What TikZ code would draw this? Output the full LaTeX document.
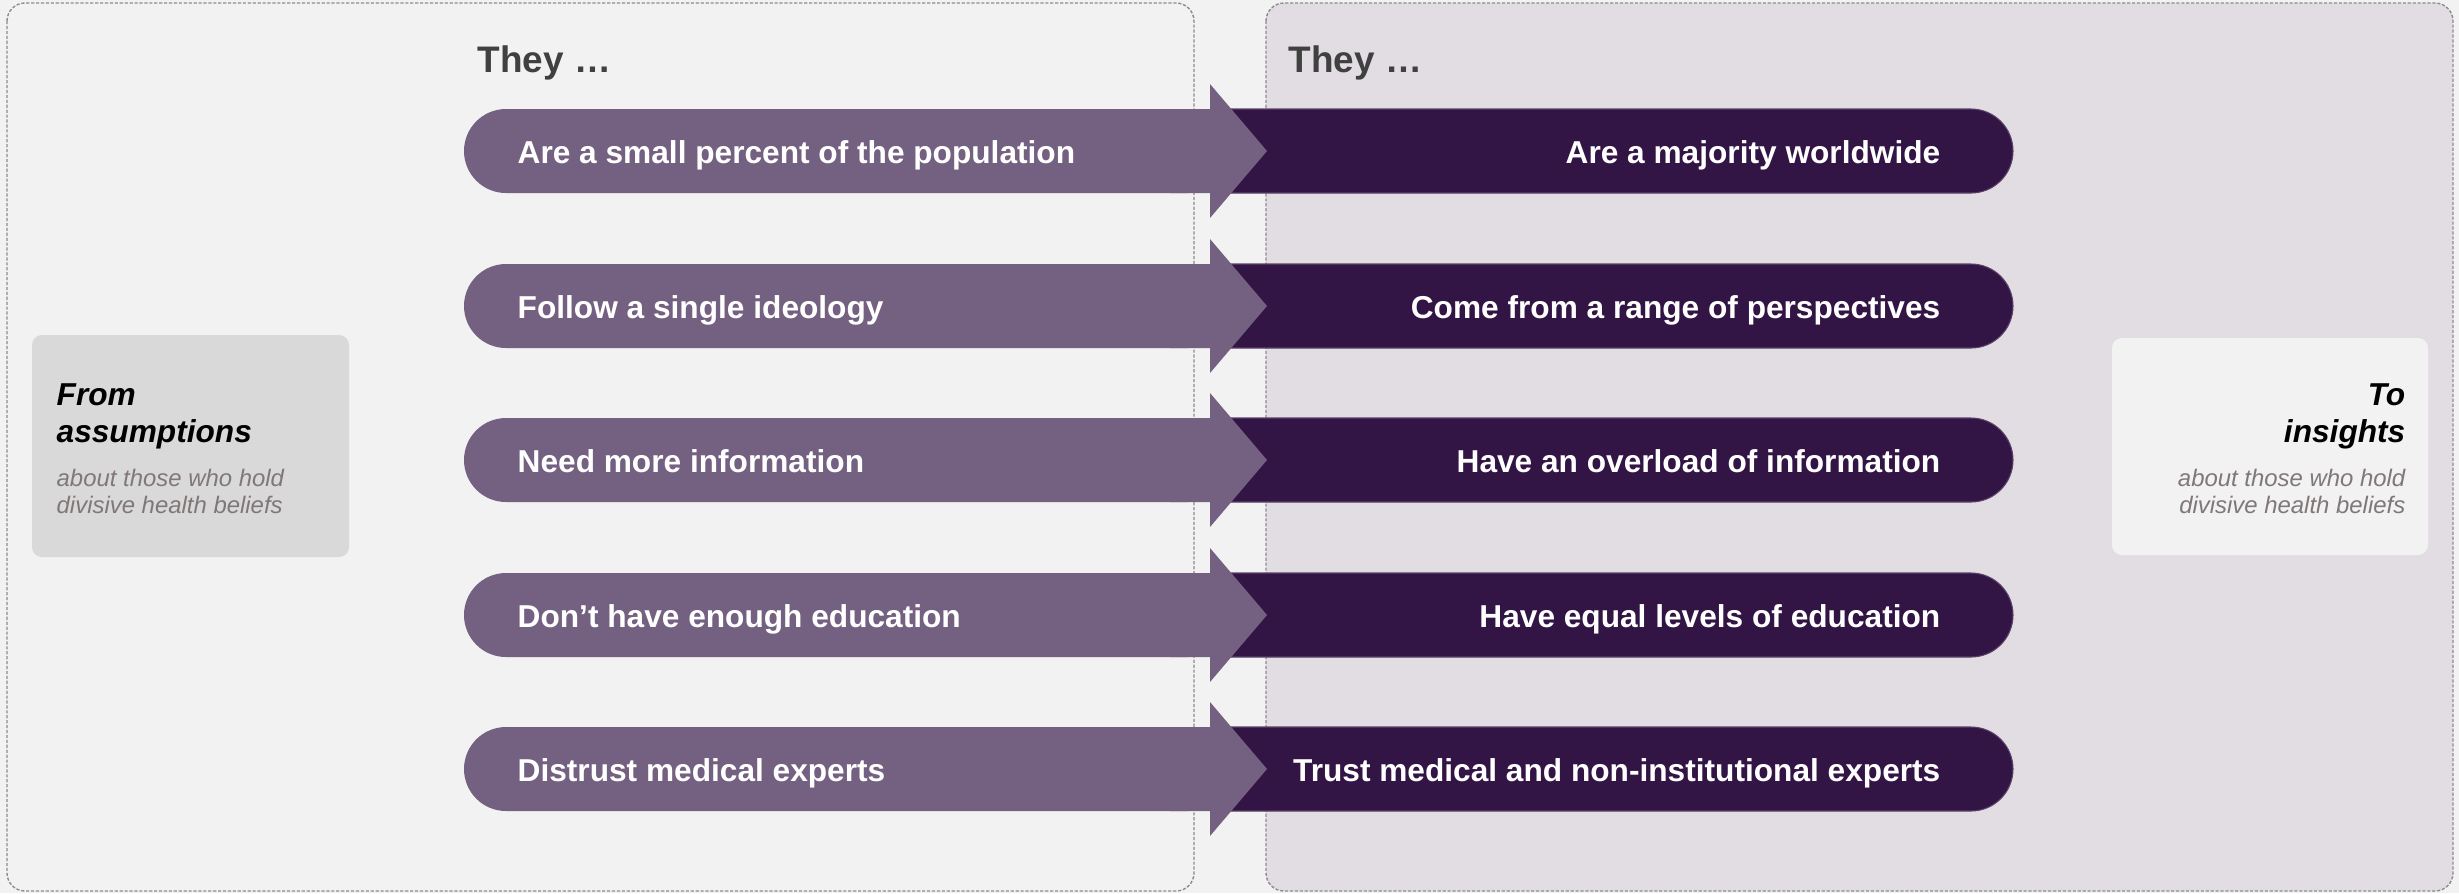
\documentclass[tikz,border=0pt]{standalone}
\usepackage{fontspec}
\setmainfont{Liberation Sans}
\usepackage{xcolor}
\usetikzlibrary{positioning}

\definecolor{pagegray}{HTML}{F2F2F2}
\definecolor{insightbg}{HTML}{E1DDE3}
\definecolor{oldpurple}{HTML}{746080}
\definecolor{newpurple}{HTML}{321545}
\definecolor{headgray}{HTML}{404040}
\definecolor{subgray}{HTML}{807878}
\definecolor{boxgray}{HTML}{D9D9D9}
\definecolor{dashgray}{HTML}{8C8C8C}

\tikzstyle{panel} = [draw=dashgray, line width=0.4pt, dash pattern=on 0.9pt off 0.5pt, rounded corners=0.18cm]
\tikzstyle{oldbar} = [fill=oldpurple, rounded corners=0.42cm]
\tikzstyle{newbar} = [fill=newpurple, draw=oldpurple!60!newpurple, line width=0.3pt, rounded corners=0.42cm]
\tikzstyle{tip} = [fill=oldpurple]
\tikzstyle{rowtext} = [text=white, font=\fontsize{9}{10}\selectfont\bfseries, inner sep=0]
\tikzstyle{head} = [text=headgray, font=\fontsize{10.5}{12}\selectfont\bfseries, inner sep=0, anchor=base west]
\tikzstyle{sidebox} = [rounded corners=0.1cm]
\tikzstyle{sidetitle} = [font=\fontsize{9}{10.5}\selectfont\bfseries\itshape, inner sep=0]
\tikzstyle{sidesub} = [text=subgray, font=\fontsize{6.8}{7.9}\selectfont\itshape, inner sep=0]

\begin{document}
\begin{tikzpicture}[x=0.01cm, y=-0.01cm]
	\useasboundingbox (0,0) rectangle (2459,893);
	\fill[pagegray] (0,0) rectangle (2459,893);
	\draw[panel, fill=pagegray] (7,3) rectangle (1194,891);
	\draw[panel, fill=insightbg] (1266,3) rectangle (2453,891);

	\node[head] (theyold) at (477,72) {They …};
	\node[head] (theynew) at (1288,72) {They …};

	% row 1
	\path[newbar] (1180,109) rectangle (2013,193);
	\fill[oldbar] (464,109) rectangle (1230,193);
	\fill[tip] (1170,109) -- (1210,109) -- (1210,84) -- (1267,151) -- (1210,218) -- (1210,193) -- (1170,193) -- cycle;
	\node[rowtext, anchor=base west] (old1) at (517,163) {Are a small percent of the population};
	\node[rowtext, anchor=base east] (new1) at (1941,163) {Are a majority worldwide};

	% row 2
	\path[newbar] (1180,264) rectangle (2013,348);
	\fill[oldbar] (464,264) rectangle (1230,348);
	\fill[tip] (1170,264) -- (1210,264) -- (1210,239) -- (1267,306) -- (1210,373) -- (1210,348) -- (1170,348) -- cycle;
	\node[rowtext, anchor=base west] (old2) at (517,318) {Follow a single ideology};
	\node[rowtext, anchor=base east] (new2) at (1941,318) {Come from a range of perspectives};

	% row 3
	\path[newbar] (1180,418) rectangle (2013,502);
	\fill[oldbar] (464,418) rectangle (1230,502);
	\fill[tip] (1170,418) -- (1210,418) -- (1210,393) -- (1267,460) -- (1210,527) -- (1210,502) -- (1170,502) -- cycle;
	\node[rowtext, anchor=base west] (old3) at (517,472) {Need more information};
	\node[rowtext, anchor=base east] (new3) at (1941,472) {Have an overload of information};

	% row 4
	\path[newbar] (1180,573) rectangle (2013,657);
	\fill[oldbar] (464,573) rectangle (1230,657);
	\fill[tip] (1170,573) -- (1210,573) -- (1210,548) -- (1267,615) -- (1210,682) -- (1210,657) -- (1170,657) -- cycle;
	\node[rowtext, anchor=base west] (old4) at (517,627) {Don’t have enough education};
	\node[rowtext, anchor=base east] (new4) at (1941,627) {Have equal levels of education};

	% row 5
	\path[newbar] (1180,727) rectangle (2013,811);
	\fill[oldbar] (464,727) rectangle (1230,811);
	\fill[tip] (1170,727) -- (1210,727) -- (1210,702) -- (1267,769) -- (1210,836) -- (1210,811) -- (1170,811) -- cycle;
	\node[rowtext, anchor=base west] (old5) at (517,781) {Distrust medical experts};
	\node[rowtext, anchor=base east] (new5) at (1941,781) {Trust medical and non-institutional experts};

	% side boxes
	\fill[boxgray, sidebox] (32,335) rectangle (349,557);
	\node[sidetitle, align=left, anchor=north west] (fromtitle) at (56,383.4) {From\\assumptions};
	\node[sidesub, align=left, below=0.18cm of fromtitle.south west, anchor=north west] (fromsub) {about those who hold\\divisive health beliefs};

	\fill[pagegray, sidebox] (2112,338) rectangle (2428,555);
	\node[sidetitle, align=right, anchor=north east] (totitle) at (2406,383.4) {To\\insights};
	\node[sidesub, align=right, below=0.18cm of totitle.south east, anchor=north east] (tosub) {about those who hold\\divisive health beliefs};
\end{tikzpicture}
\end{document}
